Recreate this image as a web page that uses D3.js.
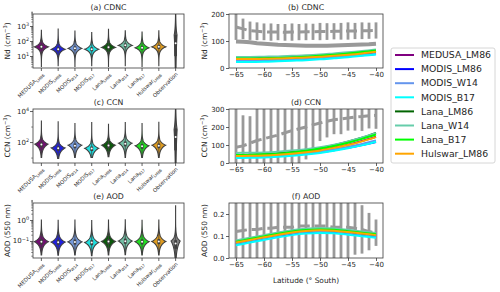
<!DOCTYPE html>
<html>
<head>
<meta charset="utf-8">
<script src="https://cdn.jsdelivr.net/npm/d3@7"></script>
<style>
body { margin: 0; background: #fff; }
text { font-family: "DejaVu Sans", sans-serif; fill: #262626; }
</style>
</head>
<body>
<svg id="chart" width="500" height="292"></svg>
<script>
// ---------- data ----------
var categories = ["MEDUSA_LM86", "MODIS_LM86", "MODIS_W14", "MODIS_B17", "Lana_LM86", "Lana_W14", "Lana_B17", "Hulswar_LM86", "Observation"];
var catMain = ["MEDUSA", "MODIS", "MODIS", "MODIS", "Lana", "Lana", "Lana", "Hulswar", "Observation"];
var catSub = ["LM86", "LM86", "W14", "B17", "LM86", "W14", "B17", "LM86", ""];
var colours = ["purple", "blue", "cornflowerblue", "cyan", "darkgreen", "mediumaquamarine", "lime", "orange", "grey"];

// violins, log10 units: peak, spread above / below the peak, tail ends
var cdncPeak = [1.61, 1.45, 1.51, 1.45, 1.58, 1.71, 1.55, 1.61, 2.4];
var cdncUp   = [0.19, 0.19, 0.19, 0.19, 0.19, 0.19, 0.19, 0.19, 0.5];
var cdncDown = [0.19, 0.19, 0.19, 0.19, 0.19, 0.19, 0.19, 0.19, 1.6];
var cdncLo   = [0.30, 0.35, 0.30, 0.35, 0.30, 0.35, 0.30, 0.35, -1.0];
var cdncHi   = [2.72, 2.80, 2.66, 2.57, 2.78, 2.68, 2.60, 2.68, 4.0];

var ccnPeak = [1.87, 1.62, 1.80, 1.60, 1.80, 1.93, 1.76, 1.80, 2.8];
var ccnUp   = [0.19, 0.19, 0.19, 0.19, 0.19, 0.19, 0.19, 0.19, 0.6];
var ccnDown = [0.26, 0.26, 0.26, 0.26, 0.26, 0.26, 0.26, 0.26, 1.6];
var ccnLo   = [1.00, 0.95, 1.00, 1.00, 1.05, 1.00, 1.00, 1.00, -0.5];
var ccnHi   = [3.35, 3.30, 3.20, 3.25, 3.15, 3.25, 3.20, 3.28, 4.6];

var aodPeak = [-1.03, -1.05, -1.04, -1.07, -1.02, -1.00, -1.03, -1.02, -1.0];
var aodUp   = [0.17, 0.17, 0.17, 0.17, 0.17, 0.17, 0.17, 0.17, 0.17];
var aodDown = [0.19, 0.19, 0.19, 0.19, 0.19, 0.19, 0.19, 0.19, 0.38];
var aodLo   = [-1.67, -1.68, -1.67, -1.70, -1.66, -1.65, -1.67, -1.66, -2.5];
var aodHi   = [0.00, -0.02, 0.00, -0.03, 0.00, 0.01, -0.01, 0.00, 0.70];

// latitude series
var latObs = [-65, -63.75, -62.5, -61.25, -60, -58.75, -57.5, -56.25, -55, -53.75, -52.5, -51.25, -50, -48.75, -47.5, -46.25, -45, -43.75, -42.5, -41.25, -40];
var latModel = [-65, -62.5, -60, -57.5, -55, -52.5, -50, -47.5, -45, -42.5, -40];

var cdncObsMean = [152, 145, 138, 136, 134, 133, 133, 132, 133, 133, 134, 134, 135, 135, 136, 136, 137, 137, 138, 138, 139];
var cdncObsErr  = [48, 38, 34, 33, 31, 32, 30, 31, 32, 30, 31, 30, 32, 31, 30, 31, 32, 30, 31, 30, 30];
var cdncObsLine = [98, 97, 95, 92, 90, 88, 86, 85, 84, 83, 82, 82, 82, 82, 83, 84, 85, 86, 87, 88, 90];

var ccnObsMean = [88, 95, 110, 125, 135, 145, 155, 168, 180, 190, 200, 212, 222, 232, 240, 245, 250, 255, 258, 262, 265];
var ccnObsErr  = [250, 170, 150, 220, 200, 180, 190, 200, 190, 200, 180, 130, 100, 90, 80, 85, 70, 75, 80, 70, 75];

var aodObsMean = [0.12, 0.125, 0.13, 0.13, 0.135, 0.135, 0.14, 0.14, 0.14, 0.145, 0.145, 0.145, 0.145, 0.145, 0.14, 0.14, 0.14, 0.135, 0.13, 0.12, 0.115];
var aodObsErr  = [0.15, 0.15, 0.15, 0.15, 0.15, 0.15, 0.15, 0.15, 0.15, 0.15, 0.15, 0.15, 0.15, 0.15, 0.15, 0.15, 0.15, 0.12, 0.11, 0.085, 0.06];

var cdncModels = [
  [31, 31, 32, 33, 35, 37, 40, 43, 47, 52, 57],
  [27, 27, 28, 29, 31, 33, 36, 39, 43, 47, 52],
  [28, 28, 29, 30, 32, 34, 37, 40, 44, 48, 53],
  [22, 22, 23, 25, 27, 29, 32, 36, 40, 45, 50],
  [36, 36, 37, 38, 40, 42, 45, 49, 53, 58, 64],
  [41, 41, 42, 43, 45, 47, 50, 54, 58, 63, 69],
  [35, 35, 36, 37, 39, 42, 45, 49, 54, 59, 65],
  [33, 33, 34, 35, 37, 39, 42, 45, 49, 54, 60]
];
var ccnModels = [
  [40, 41, 43, 47, 53, 61, 72, 86, 102, 122, 146],
  [33, 34, 36, 39, 44, 51, 60, 71, 85, 100, 117],
  [35, 36, 38, 41, 47, 54, 63, 75, 90, 106, 125],
  [28, 29, 31, 35, 40, 47, 56, 68, 82, 98, 118],
  [45, 46, 49, 54, 61, 71, 83, 99, 118, 140, 167],
  [56, 57, 59, 63, 69, 77, 88, 102, 120, 142, 165],
  [44, 45, 48, 52, 59, 68, 80, 95, 113, 134, 158],
  [39, 40, 42, 46, 52, 60, 70, 84, 100, 120, 144]
];
var aodModels = [
  [0.068, 0.080, 0.092, 0.104, 0.114, 0.121, 0.124, 0.122, 0.116, 0.109, 0.102],
  [0.064, 0.076, 0.088, 0.100, 0.110, 0.117, 0.120, 0.118, 0.112, 0.105, 0.098],
  [0.066, 0.078, 0.090, 0.102, 0.112, 0.119, 0.122, 0.120, 0.114, 0.107, 0.100],
  [0.058, 0.070, 0.082, 0.094, 0.104, 0.111, 0.114, 0.112, 0.106, 0.099, 0.092],
  [0.072, 0.084, 0.096, 0.108, 0.118, 0.125, 0.128, 0.126, 0.120, 0.113, 0.106],
  [0.080, 0.092, 0.104, 0.116, 0.126, 0.133, 0.136, 0.134, 0.128, 0.121, 0.114],
  [0.074, 0.086, 0.098, 0.110, 0.120, 0.127, 0.130, 0.128, 0.122, 0.115, 0.108],
  [0.070, 0.082, 0.094, 0.106, 0.116, 0.123, 0.126, 0.124, 0.118, 0.111, 0.104]
];

// ---------- layout ----------
var svg = d3.select("#chart");
var defs = svg.append("defs");
var leftX = [33, 184], rightX = [229, 383];
var rows = [[14, 68], [109, 163], [203, 258]];
var spine = "#3a3a3a";
var tickFont = 7;

var x = d3.scaleBand().domain(categories).range(leftX);
var xLat = d3.scaleLinear().domain([-66.25, -38.75]).range(rightX);

// seaborn-style desaturated fills
function desat(c) { var h = d3.hsl(c); h.s *= 0.75; return h.formatHex(); }

function addSup(t, base, sup, tail, size) {
  t.append("tspan").text(base);
  t.append("tspan").attr("dy", -size * 0.42).attr("font-size", size * 0.7).text(sup);
  if (tail) t.append("tspan").attr("dy", size * 0.42).text(tail);
}

function clipFor(id, x0, x1, y0, y1) {
  defs.append("clipPath").attr("id", id).append("rect")
    .attr("x", x0).attr("y", y0).attr("width", x1 - x0).attr("height", y1 - y0);
  return "url(#" + id + ")";
}

function yLabel(xPos, row, base, sup, tail) {
  var t = svg.append("text")
    .attr("transform", "translate(" + xPos + "," + ((row[0] + row[1]) / 2) + ") rotate(-90)")
    .attr("text-anchor", "middle").attr("font-size", 7.4);
  addSup(t, base, sup, tail, 7.4);
}

function title(cx, row, txt) {
  svg.append("text").attr("x", cx).attr("y", row[0] - 4)
    .attr("text-anchor", "middle").attr("font-size", 7.8).text(txt);
}

// ---------- violin panels ----------
function violinPanel(id, row, ttl, lab, logLim, majors, minors, peak, up, down, lo, hi) {
  var y = d3.scaleLog().domain([Math.pow(10, logLim[0]), Math.pow(10, logLim[1])]).range([row[1], row[0]]);
  var g = svg.append("g");
  var clip = clipFor(id, leftX[0], leftX[1], row[0], row[1]);

  // density outline per category
  var shapes = categories.map(function(c, i) {
    var a = 1 / (up[i] + down[i]);
    var pts = [];
    var n = 160;
    for (var k = 0; k <= n; k++) pts.push(lo[i] + (hi[i] - lo[i]) * k / n);
    pts.push(peak[i]);
    pts.sort(d3.ascending);
    pts = pts.map(function(v) {
      var d = v >= peak[i] ? a * Math.exp(-(v - peak[i]) / up[i]) : a * Math.exp(-(peak[i] - v) / down[i]);
      return { v: v, d: d };
    });
    var cum = [0];
    for (var k = 1; k < pts.length; k++) {
      cum.push(cum[k - 1] + (pts[k].v - pts[k - 1].v) * (pts[k].d + pts[k - 1].d) / 2);
    }
    var tot = cum[cum.length - 1];
    function q(p) {
      for (var k = 1; k < cum.length; k++) {
        if (cum[k] / tot >= p) {
          var f = (p * tot - cum[k - 1]) / (cum[k] - cum[k - 1] || 1);
          return pts[k - 1].v + f * (pts[k].v - pts[k - 1].v);
        }
      }
      return pts[pts.length - 1].v;
    }
    return { cat: c, i: i, pts: pts, tot: tot, q1: q(0.25), med: q(0.5), q3: q(0.75) };
  });
  var dmax = d3.max(shapes, function(s) { return d3.max(s.pts, function(p) { return p.d / s.tot; }); });
  var w = d3.scaleLinear().domain([0, dmax]).range([0, x.bandwidth() * 0.42]);

  var vg = g.append("g").attr("clip-path", clip);
  shapes.forEach(function(s) {
    var cx = x(s.cat) + x.bandwidth() / 2;
    var area = d3.area()
      .y(function(p) { return y(Math.pow(10, p.v)); })
      .x0(function(p) { return cx - w(p.d / s.tot); })
      .x1(function(p) { return cx + w(p.d / s.tot); });
    vg.append("path").attr("d", area(s.pts))
      .attr("fill", desat(colours[s.i])).attr("stroke", "#3f3f3f").attr("stroke-width", 1.1);
    var iqr = s.q3 - s.q1;
    var wLo = Math.max(lo[s.i], s.q1 - 1.5 * iqr), wHi = Math.min(hi[s.i], s.q3 + 1.5 * iqr);
    vg.append("line").attr("x1", cx).attr("x2", cx)
      .attr("y1", y(Math.pow(10, wLo))).attr("y2", y(Math.pow(10, wHi)))
      .attr("stroke", "#3f3f3f").attr("stroke-width", 0.8);
    vg.append("line").attr("x1", cx).attr("x2", cx)
      .attr("y1", y(Math.pow(10, s.q1))).attr("y2", y(Math.pow(10, s.q3)))
      .attr("stroke", "#3f3f3f").attr("stroke-width", 2.8);
    vg.append("circle").attr("cx", cx).attr("cy", y(Math.pow(10, s.med))).attr("r", 1).attr("fill", "#fff");
  });

  // axes
  var ax = g.append("g").attr("transform", "translate(" + leftX[0] + ",0)");
  ax.call(d3.axisLeft(y).tickValues(minors).tickSize(1.8).tickFormat(""));
  ax.select(".domain").remove();
  var ax2 = g.append("g").attr("transform", "translate(" + leftX[0] + ",0)");
  ax2.call(d3.axisLeft(y).tickValues(majors).tickSize(3).tickFormat(""));
  ax2.select(".domain").remove();
  ax.selectAll("line").attr("stroke", spine).attr("stroke-width", 0.6);
  ax2.selectAll("line").attr("stroke", spine).attr("stroke-width", 0.8);
  majors.forEach(function(m) {
    var e = Math.round(Math.log10(m));
    var t = g.append("text").attr("x", leftX[0] - 4).attr("y", y(m) + 2.5)
      .attr("text-anchor", "end").attr("font-size", tickFont);
    addSup(t, "10", e < 0 ? "\u2212" + (-e) : "" + e, null, tickFont);
  });

  categories.forEach(function(c, i) {
    var cx = x(c) + x.bandwidth() / 2;
    g.append("line").attr("x1", cx).attr("x2", cx).attr("y1", row[1]).attr("y2", row[1] + 3)
      .attr("stroke", spine).attr("stroke-width", 0.8);
    var t = g.append("text").attr("text-anchor", "end").attr("font-size", 5.4)
      .attr("transform", "translate(" + (cx + 2.5) + "," + (row[1] + 6.5) + ") rotate(-45)");
    t.append("tspan").text(catMain[i]);
    if (catSub[i]) t.append("tspan").attr("dy", 1.4).attr("font-size", 3.8).text(catSub[i]);
  });

  g.append("rect").attr("x", leftX[0]).attr("y", row[0])
    .attr("width", leftX[1] - leftX[0]).attr("height", row[1] - row[0])
    .attr("fill", "none").attr("stroke", spine).attr("stroke-width", 0.8);
  title((leftX[0] + leftX[1]) / 2, row, ttl);
  yLabel(10, row, lab[0], lab[1], lab[2]);
}

function logMinors(a, b) {
  var out = [];
  for (var e = a; e <= b; e++) for (var m = 2; m <= 9; m++) out.push(m * Math.pow(10, e));
  return out;
}

violinPanel("ca", rows[0], "(a) CDNC", ["Nd (cm", "\u22123", ")"], [0.2, 3.8],
  [10, 100, 1000], logMinors(0, 3), cdncPeak, cdncUp, cdncDown, cdncLo, cdncHi);
violinPanel("cc", rows[1], "(c) CCN", ["CCN (cm", "\u22123", ")"], [0.65, 4.13],
  [100, 10000], [10, 1000], ccnPeak, ccnUp, ccnDown, ccnLo, ccnHi);
violinPanel("ce", rows[2], "(e) AOD", ["AOD (550 nm)", "", ""], [-1.81, 0.81],
  [0.1, 1], logMinors(-2, 0), aodPeak, aodUp, aodDown, aodLo, aodHi);

// ---------- latitude panels ----------
var obsGrey = "#999999";

function latPanel(id, row, ttl, lab, yDom, yTicks, fmt, mean, err, solid, models) {
  var y = d3.scaleLinear().domain(yDom).range([row[1], row[0]]);
  var g = svg.append("g");
  var clip = clipFor(id, rightX[0], rightX[1], row[0], row[1]);
  var pg = g.append("g").attr("clip-path", clip);

  pg.selectAll(".err").data(latObs).enter().append("line")
    .attr("x1", function(d) { return xLat(d); }).attr("x2", function(d) { return xLat(d); })
    .attr("y1", function(d, i) { return y(mean[i] - err[i]); })
    .attr("y2", function(d, i) { return y(mean[i] + err[i]); })
    .attr("stroke", obsGrey).attr("stroke-width", 2.8);

  var obsLine = d3.line().x(function(d) { return xLat(d[0]); }).y(function(d) { return y(d[1]); });
  pg.append("path").attr("d", obsLine(d3.zip(latObs, mean)))
    .attr("fill", "none").attr("stroke", obsGrey).attr("stroke-width", 3).attr("stroke-dasharray", "11,4.8");
  if (solid) {
    pg.append("path").attr("d", obsLine(d3.zip(latObs, solid)))
      .attr("fill", "none").attr("stroke", obsGrey).attr("stroke-width", 4);
  }

  var mLine = d3.line().curve(d3.curveMonotoneX)
    .x(function(d) { return xLat(d[0]); }).y(function(d) { return y(d[1]); });
  models.forEach(function(vals, i) {
    pg.append("path").attr("d", mLine(d3.zip(latModel, vals)))
      .attr("fill", "none").attr("stroke", colours[i]).attr("stroke-width", 2);
  });

  var ay = g.append("g").attr("transform", "translate(" + rightX[0] + ",0)")
    .call(d3.axisLeft(y).tickValues(yTicks).tickSize(3).tickPadding(1.5).tickFormat(fmt));
  var axb = g.append("g").attr("transform", "translate(0," + row[1] + ")")
    .call(d3.axisBottom(xLat).tickValues([-65, -60, -55, -50, -45, -40]).tickSize(3).tickPadding(1.5).tickFormat(d3.format("d")));
  [ay, axb].forEach(function(a) {
    a.select(".domain").remove();
    a.selectAll("line").attr("stroke", spine).attr("stroke-width", 0.8);
    a.selectAll("text").attr("font-size", tickFont).attr("font-family", "DejaVu Sans").attr("fill", "#262626");
  });

  g.append("rect").attr("x", rightX[0]).attr("y", row[0])
    .attr("width", rightX[1] - rightX[0]).attr("height", row[1] - row[0])
    .attr("fill", "none").attr("stroke", spine).attr("stroke-width", 0.8);
  title((rightX[0] + rightX[1]) / 2, row, ttl);
  yLabel(207, row, lab[0], lab[1], lab[2]);
}

latPanel("cb", rows[0], "(b) CDNC", ["Nd (cm", "\u22123", ")"], [0, 200], [0, 100, 200], d3.format("d"),
  cdncObsMean, cdncObsErr, cdncObsLine, cdncModels);
latPanel("cd", rows[1], "(d) CCN", ["CCN (cm", "\u22123", ")"], [0, 300], [0, 100, 200, 300], d3.format("d"),
  ccnObsMean, ccnObsErr, null, ccnModels);
latPanel("cf", rows[2], "(f) AOD", ["AOD (550 nm)", "", ""], [0, 0.25], [0, 0.1, 0.2], d3.format(".1f"),
  aodObsMean, aodObsErr, null, aodModels);

svg.append("text").attr("x", (rightX[0] + rightX[1]) / 2).attr("y", 283)
  .attr("text-anchor", "middle").attr("font-size", 7.4).text("Latitude (\u00b0 South)");

// ---------- legend ----------
var legend = svg.append("g");
legend.append("rect").attr("x", 391).attr("y", 48).attr("width", 104).attr("height", 115)
  .attr("rx", 2).attr("fill", "#fff").attr("stroke", "#cccccc").attr("stroke-width", 0.8);
var entries = legend.selectAll(".entry").data(categories.slice(0, 8)).enter().append("g")
  .attr("transform", function(d, i) { return "translate(0," + (55 + i * 14.1) + ")"; });
entries.append("line").attr("x1", 395).attr("x2", 414)
  .attr("stroke", function(d, i) { return colours[i]; }).attr("stroke-width", 2);
entries.append("text").attr("x", 421).attr("dy", "0.35em").attr("font-size", 9.3).text(function(d) { return d; });
</script>
</body>
</html>
